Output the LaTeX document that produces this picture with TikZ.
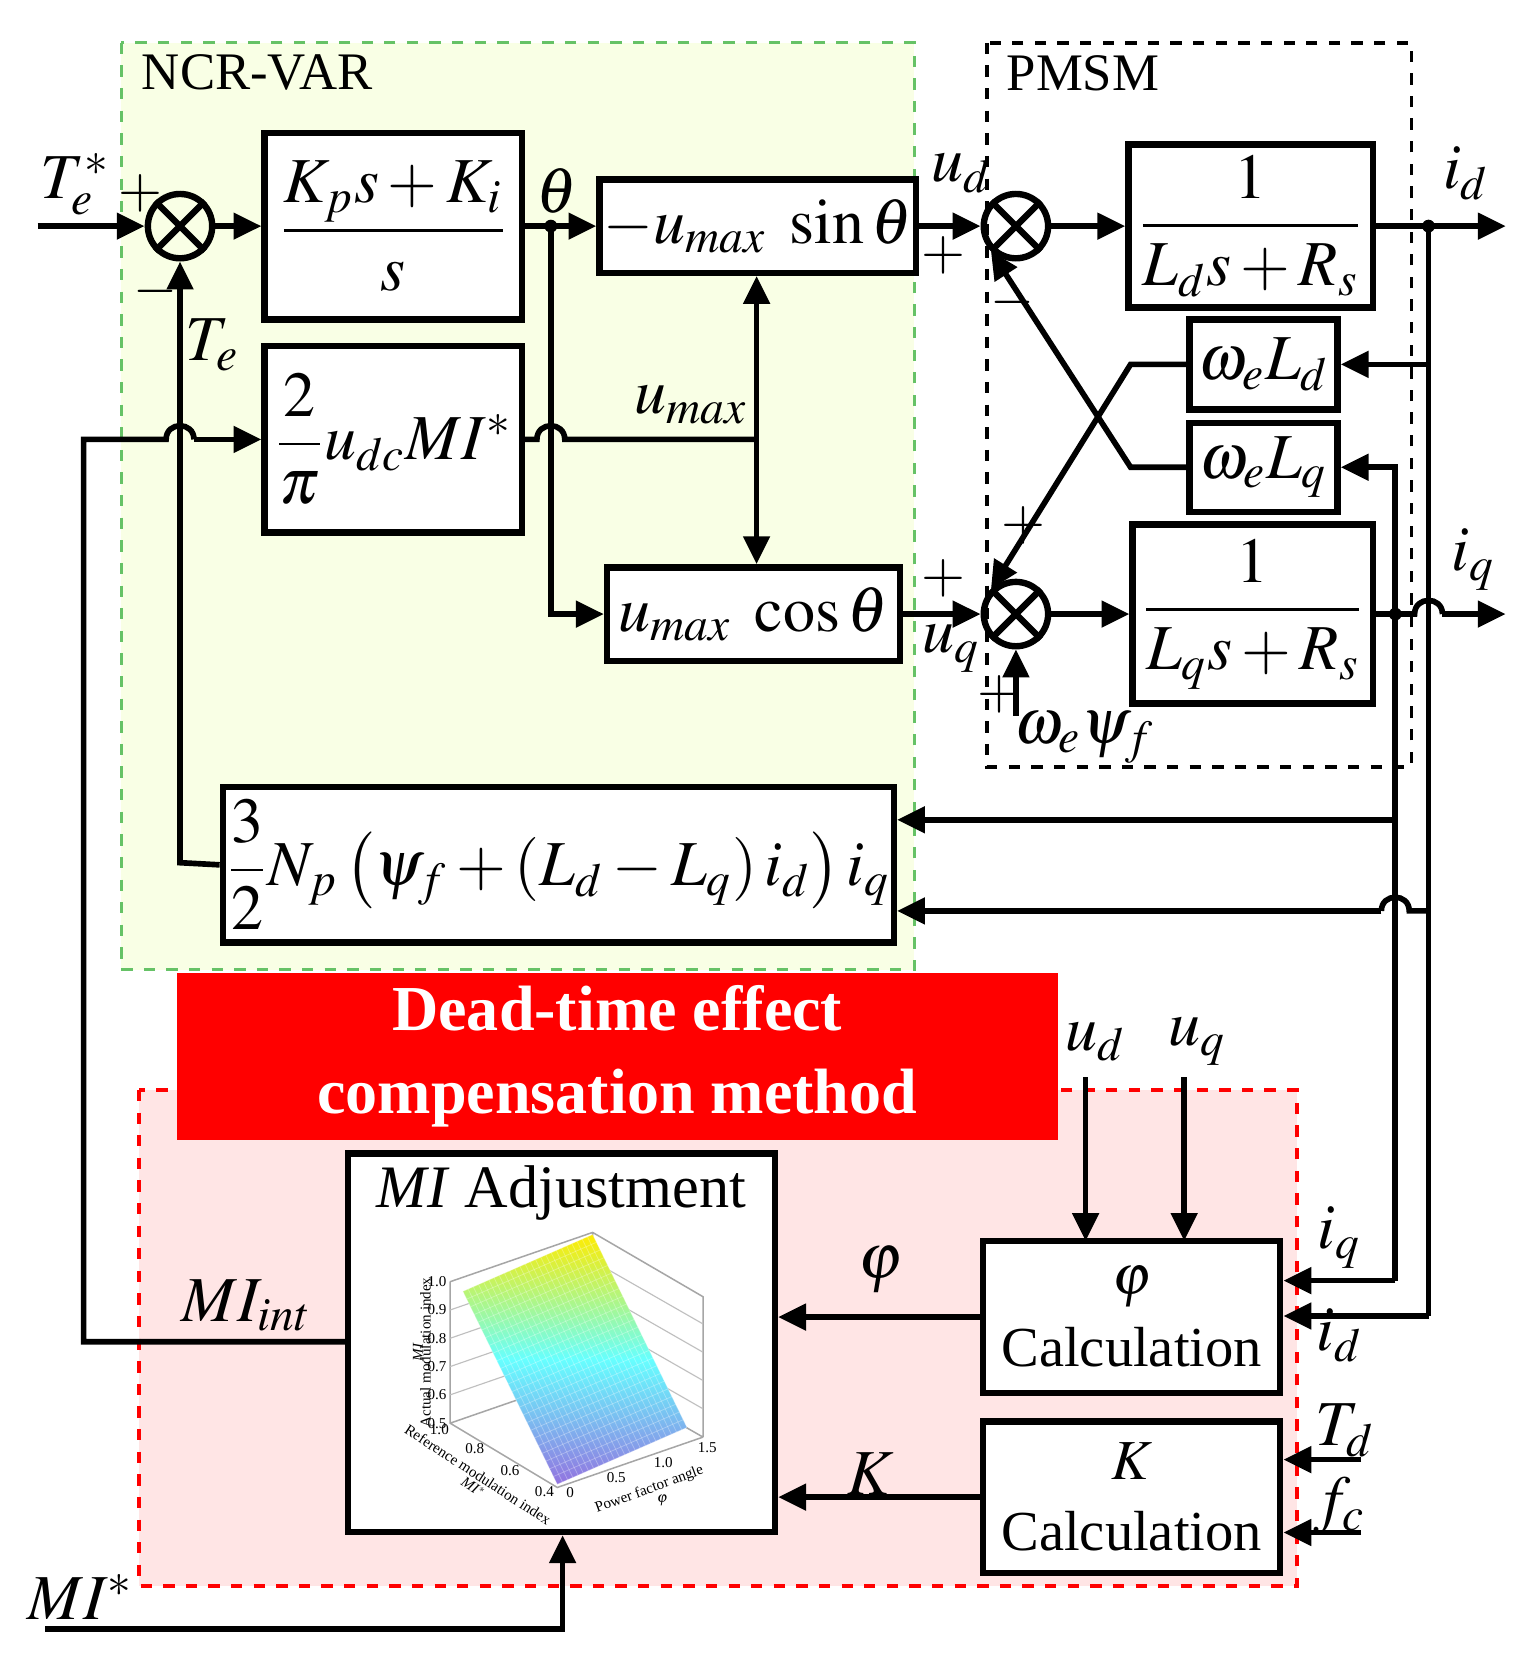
\documentclass[tikz,border=0pt]{standalone}
\usepackage{amsmath}
\usepackage{mathptmx}
\usepackage{fontspec}
\setmainfont{Liberation Serif}
\usetikzlibrary{arrows.meta,calc}
\begin{document}
\begin{tikzpicture}[x=0.01cm,y=-0.01cm,
  ln/.style={line width=1.5pt},
  ar/.style={ln,-{Triangle[length=0.26cm,width=0.24cm]}},
  blk/.style={draw,line width=1.7pt,fill=white,inner sep=1pt},
  mf/.style={font=\fontsize{17}{20}\selectfont},
  lbl/.style={font=\fontsize{17}{20}\selectfont},
  sg/.style={font=\fontsize{15}{18}\selectfont},
  dot/.style={circle,fill,inner sep=0pt,minimum size=0.12cm},
  txt/.style={font=\fontsize{15}{19}\selectfont,align=center}]
\useasboundingbox (0,0) rectangle (1420,1563);
% regions
\draw[green!60!black!60,fill=green!25!yellow!10,dashed,line width=0.8pt] (113,40) rectangle (853,905);
\node[anchor=west,font=\fontsize{14}{16}\selectfont] (ncr) at (120,68) {NCR-VAR};
\draw[dashed,line width=1pt,fill=white] (921,40) rectangle (1317,716);
\node[anchor=west,font=\fontsize{14}{16}\selectfont] (pm) at (927,68) {PMSM};
\draw[red,dashed,fill=red!10,line width=1pt] (130,1017) rectangle (1210,1480);
\node[fill=red,minimum width=8.22cm,minimum height=1.33cm,text=white,font=\bfseries\fontsize{17}{22}\selectfont,align=center] (ban) at (576,986) {Dead-time effect\\compensation method};
% blocks
\node[blk,mf,minimum width=2.4cm,minimum height=1.74cm] (pi) at (367,211) {$\dfrac{K_ps+K_i}{s}$};
\node[blk,mf,minimum width=2.4cm,minimum height=1.74cm] (um) at (367,410) {$\dfrac{2}{\pi}u_{dc}MI^*$};
\node[blk,mf,minimum width=2.75cm,minimum height=0.87cm] (sin) at (707,211) {$-u_{max}\ \sin\theta$};
\node[blk,mf,minimum width=2.73cm,minimum height=0.87cm] (cos) at (703,573) {$u_{max}\ \cos\theta$};
\node[blk,mf,minimum width=2.28cm,minimum height=1.52cm] (ld) at (1167,211) {$\dfrac{1}{L_ds+R_s}$};
\node[blk,mf,minimum width=2.24cm,minimum height=1.67cm] (lq) at (1169,573) {$\dfrac{1}{L_qs+R_s}$};
\node[blk,mf,minimum width=1.38cm,minimum height=0.84cm] (wd) at (1179,340) {$\omega_eL_d$};
\node[blk,mf,minimum width=1.38cm,minimum height=0.83cm] (wq) at (1179,436) {$\omega_eL_q$};
\node[blk,mf,minimum width=6.23cm,minimum height=1.45cm] (te) at (521,807) {$\dfrac{3}{2}N_p\left(\psi_f+\left(L_d-L_q\right)i_d\right)i_q$};
\node[blk,minimum width=3.98cm,minimum height=3.53cm] (mi) at (524,1253) {};
\node[txt,font=\fontsize{16}{19}\selectfont] (mit) at (524,1113) {\textit{MI} Adjustment};
\node[blk,minimum width=2.77cm,minimum height=1.42cm,txt] (phc) at (1056,1229) {$\varphi$\\Calculation};
\node[blk,minimum width=2.77cm,minimum height=1.41cm,txt] (kc) at (1056,1397) {$K$\\Calculation};
% sums
\foreach \n/\x/\y in {s1/168/211,s2/948/211,s3/948/573}{
  \node[draw,circle,line width=1.7pt,minimum size=0.6cm,inner sep=0pt] (\n) at (\x,\y) {};
  \draw[line width=1.7pt] (\n.45)--(\n.225) (\n.135)--(\n.315);}
% 3D plot
\draw[gray!70,line width=0.4pt] (420,1196)--(553,1150)--(656,1210)--(656,1341) (553,1150)--(553,1282)--(656,1341) (553,1282)--(420,1328)
 (420,1196)--(420,1328)--(520,1388)--(656,1341);
\foreach \t in {1,...,4}{\draw[gray!50,line width=0.3pt] (420,{1328-26.4*\t})--(553,{1282-26.4*\t})--(656,{1341-26.4*\t});}
\shade[top color=yellow!85!orange,bottom color=violet!45!blue!55,middle color=cyan!60,shading angle=0]
  (432,1205)--(553,1152)--(641,1332)--(520,1385)--cycle;
\foreach \t in {0,0.04,...,1}{\draw[white,opacity=0.3,line width=0.2pt] ($(432,1205)!\t!(553,1152)$)--($(520,1385)!\t!(641,1332)$);}
\foreach \t in {0,0.04,...,1}{\draw[white,opacity=0.3,line width=0.2pt] ($(432,1205)!\t!(520,1385)$)--($(553,1152)!\t!(641,1332)$);}
\begin{scope}[font=\fontsize{4}{5}\selectfont,inner sep=0.2pt]
\foreach \v [count=\i from 0] in {0.5,0.6,0.7,0.8,0.9,1.0}{\node[anchor=east] (zt\i) at (418,{1328-26.4*\i}) {\v};}
\node[rotate=90] (zl) at (397,1262) {Actual modulation index};
\node[rotate=90] (zm) at (390,1262) {\textit{MI}};
\node (x1) at (410,1334) {1.0}; \node (x2) at (443,1352) {0.8}; \node (x3) at (476,1372) {0.6}; \node (x4) at (508,1392) {0.4};
\node[rotate=-33] (xl) at (446,1376) {Reference modulation index};
\node[rotate=-33] (xm) at (442,1388) {\textit{MI}$^*$};
\node (y0) at (532,1393) {0}; \node (y1) at (575,1379) {0.5}; \node (y2) at (619,1365) {1.0}; \node (y3) at (660,1351) {1.5};
\node[rotate=20] (yl) at (606,1390) {Power factor angle};
\node (ym) at (618,1400) {$\varphi$};
\end{scope}
% coordinates
\coordinate (in) at (35,211);
\coordinate (th) at (514,211);
\coordinate (jd) at (1333,211);
\coordinate (jq) at (1302,573);
\node[dot] (thd) at (th) {};
\node[dot] (jdd) at (jd) {};
\node[dot] (jqd) at (jq) {};
% top path
\draw[ar] (in)--(s1);
\draw[ar] (s1)--(pi);
\draw[ln] (pi.east)--(th);
\draw[ar] (th)--(sin);
\draw[ar] (th)--(514,573)--(cos);
\draw[ln] (um.east)--(501,410) .. controls (501,393) and (527,393) .. (527,410)--(706,410);
\draw[ar] (706,410)--(sin.south -| 706,0);
\draw[ar] (706,410)--(cos.north -| 706,0);
\draw[ar] (sin)--(s2);
\draw[ar] (cos)--(s3);
\draw[ar] (s2)--(ld);
\draw[ar] (s3)--(lq);
\draw[ar] (ld.east)--(1405,211);
\draw[ln] (lq.east)--(1320,573) .. controls (1320,556) and (1346,556) .. (1346,573);
\draw[ar] (1346,573)--(1405,573);
% id branch
\draw[ar] (jd)--(1333,340)--(wd.east);
\draw[ln] (1333,340)--(1333,1228);
\draw[ar] (1333,1228)--(phc.east |- 0,1228);
% iq branch
\draw[ar] (1302,573)--(1302,436)--(wq.east);
\draw[ln] (1302,573)--(1302,1195);
\draw[ar] (1302,1195)--(phc.east |- 0,1195);
\draw[ar] (1302,765)--(te.east |- 0,765);
\draw[ln] (1333,850)--(1315,850) .. controls (1315,833) and (1289,833) .. (1289,850);
\draw[ar] (1289,850)--(te.east |- 0,850);
% cross couplings
\draw[ar] (wd.west)--(1055,340)--(s3.north west);
\draw[ar] (wq.west)--(1055,436)--(s2.south west);
\draw[ar] (948,668)--(s3);
% feedback Te
\draw[ar] (te.west)--(168,805)--(s1);
% MI_int
\draw[ln] (mi.west |- 0,1252)--(78,1252)--(78,410)--(155,410) .. controls (155,393) and (181,393) .. (181,410);
\draw[ar] (181,410)--(um.west);
% bottom
\draw[ar] (phc.west)--(mi.east |- 0,1229);
\draw[ar] (kc.west)--(mi.east |- 0,1397);
\draw[ar] (1013,1005)--(1013,1158);
\draw[ar] (1105,1005)--(1105,1158);
\draw[ar] (1270,1362)--(kc.east |- 0,1362);
\draw[ar] (1270,1430)--(kc.east |- 0,1430);
\draw[ar] (42,1520)--(525,1520)--(mi.south -| 525,0);
% labels
\node[lbl] (l1) at (70,172) {$T_e^*$};
\node[sg] (p1) at (131,180) {$+$};
\node[sg] (m1) at (145,272) {$-$};
\node[lbl] (l2) at (198,322) {$T_e$};
\node[lbl] (l3) at (520,178) {$\theta$};
\node[lbl] (l4) at (645,378) {$u_{max}$};
\node[lbl] (l5) at (897,162) {$u_d$};
\node[sg] (p2) at (880,238) {$+$};
\node[sg] (m2) at (945,282) {$-$};
\node[lbl] (l6) at (1368,162) {$i_d$};
\node[sg] (p3) at (955,490) {$+$};
\node[sg] (p4) at (880,540) {$+$};
\node[lbl] (l7) at (888,605) {$u_q$};
\node[sg] (p5) at (933,648) {$+$};
\node[lbl] (l8) at (1012,688) {$\omega_e\psi_f$};
\node[lbl] (l9) at (1375,522) {$i_q$};
\node[lbl] (l10) at (230,1218) {$MI_{int}$};
\node[lbl] (l11) at (75,1490) {$MI^*$};
\node[lbl] (l12) at (822,1185) {$\varphi$};
\node[lbl] (l13) at (812,1375) {$K$};
\node[lbl] (l14) at (1022,972) {$u_d$};
\node[lbl] (l15) at (1117,972) {$u_q$};
\node[lbl] (l16) at (1250,1155) {$i_q$};
\node[lbl] (l17) at (1250,1246) {$i_d$};
\node[lbl] (l18) at (1255,1335) {$T_d$};
\node[lbl] (l19) at (1250,1405) {$f_c$};
\end{tikzpicture}
\end{document}
